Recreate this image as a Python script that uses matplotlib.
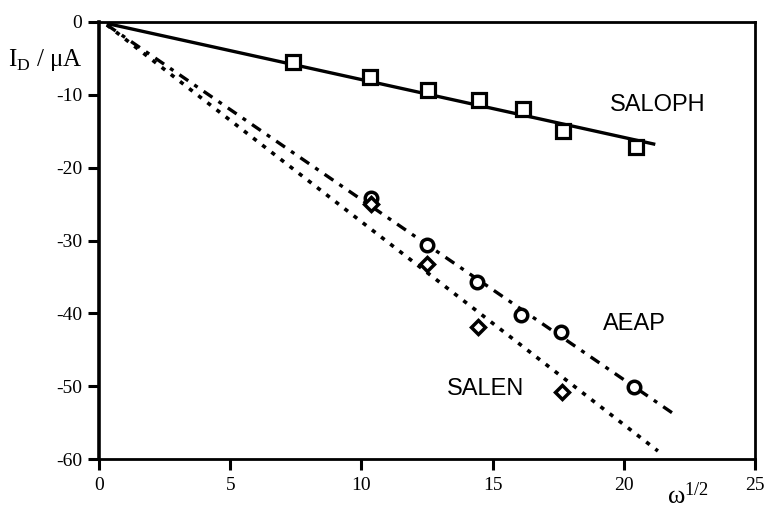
import matplotlib
matplotlib.use("Agg")
import matplotlib.pyplot as plt

plt.rcParams['axes.unicode_minus'] = False

# SALOPH (squares)
saloph_x = [7.38, 10.34, 12.55, 14.49, 16.16, 17.68, 20.46]
saloph_y = [-5.5, -7.5, -9.3, -10.7, -11.95, -15.0, -17.2]
saloph_fit_x = [0.3, 21.2]
saloph_fit_y = [-0.2, -16.8]

# AEAP (circles)
aeap_x = [10.35, 12.5, 14.4, 16.1, 17.6, 20.4]
aeap_y = [-24.2, -30.6, -35.7, -40.2, -42.6, -50.1]
aeap_fit_x = [0.3, 21.9]
aeap_fit_y = [-0.4, -53.8]

# SALEN (diamonds)
salen_x = [10.35, 12.5, 14.45, 17.65]
salen_y = [-25.0, -33.2, -41.9, -50.8]
salen_fit_x = [0.3, 21.3]
salen_fit_y = [-0.4, -58.9]

x_ticks = [0, 5, 10, 15, 20, 25]
y_ticks = [0, -10, -20, -30, -40, -50, -60]

fig = plt.figure(figsize=(7.64, 5.09), dpi=100)
ax = fig.add_axes([99/764, 1-459/509, (755-99)/764, (459-22)/509])

ax.plot(saloph_fit_x, saloph_fit_y, color='black', lw=2.4, solid_capstyle='butt')
ax.plot(aeap_fit_x, aeap_fit_y, color='black', lw=2.4, linestyle=(0, (3.2, 2.2, 1.2, 2.2)))
ax.plot(salen_fit_x, salen_fit_y, color='black', lw=2.6, linestyle=(0, (1.2, 2.0)))

ax.plot(saloph_x, saloph_y, linestyle='none', marker='s', ms=9.5, mfc='white', mec='black', mew=2.3)
ax.plot(aeap_x, aeap_y, linestyle='none', marker='o', ms=9, mfc='white', mec='black', mew=2.5)
ax.plot(salen_x, salen_y, linestyle='none', marker='D', ms=7, mfc='white', mec='black', mew=2.5)

ax.set_xlim(0, 25)
ax.set_ylim(-60, 0)
ax.set_xticks(x_ticks)
ax.set_yticks(y_ticks)
ax.set_xticklabels([str(v) for v in x_ticks])
ax.set_yticklabels([str(v) for v in y_ticks])
ax.tick_params(axis='both', direction='out', length=8, width=2.2, colors='black',
               labelsize=14, labelfontfamily='Liberation Serif')
ax.tick_params(axis='x', pad=5)
ax.tick_params(axis='y', pad=4)
ax.tick_params(top=False, right=False)
for s in ax.spines.values():
    s.set_linewidth(2.0)
ax.spines['left'].set_linewidth(2.6)


def figtext_px(x, y, s, **kw):
    fig.text(x/764, 1-y/509, s, **kw)


figtext_px(658, 105, 'SALOPH', family='Liberation Sans', fontsize=17, ha='center', va='center')
figtext_px(634, 324, 'AEAP', family='Liberation Sans', fontsize=17, ha='center', va='center')
figtext_px(486, 389, 'SALEN', family='Liberation Sans', fontsize=17, ha='center', va='center')

figtext_px(45, 60, r'I$_{\mathregular{D}}$ / $\mathregular{\mu}$A', family='Liberation Serif',
           fontsize=18, ha='center', va='center')
figtext_px(688, 496, r'$\mathregular{\omega^{1/2}}$', family='Liberation Serif',
           fontsize=19, ha='center', va='center')

fig.savefig('out.png', dpi=100)
